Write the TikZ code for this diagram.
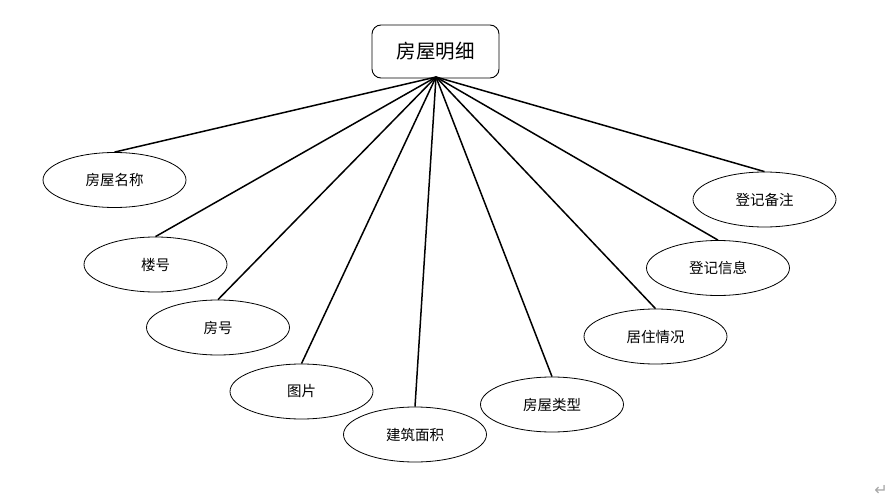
\documentclass[tikz,border=0pt]{standalone}
\usepackage{fontspec}
\usetikzlibrary{shapes.geometric}
\newfontfamily\cjk{Noto Sans CJK SC}
\newfontfamily\dejavu{DejaVu Sans}
\begin{document}
\begin{tikzpicture}[x=1pt,y=-1pt,
  rootbox/.style={draw=black, line width=0.9pt, rounded corners=9pt, minimum width=127pt, minimum height=53pt, inner sep=0pt, font=\cjk\fontsize{19.5}{22}\selectfont},
  attr/.style={draw=black, line width=0.8pt, ellipse, minimum width=143pt, minimum height=55pt, inner sep=0pt, font=\cjk\fontsize{14.5}{17}\selectfont},
  link/.style={line width=1.5pt, black}]
\useasboundingbox (0,0) rectangle (894,500);
\node[rootbox] (root) at (435.5,51.5) {房屋明细};
\coordinate (hub) at (436,77);
\node[attr] (a1) at (114.5,180) {房屋名称};
\node[attr] (a2) at (155.5,264.5) {楼号};
\node[attr] (a3) at (218,327.5) {房号};
\node[attr] (a4) at (301.5,391.5) {图片};
\node[attr] (a5) at (415,434.5) {建筑面积};
\node[attr] (a6) at (552,404.5) {房屋类型};
\node[attr] (a7) at (655.5,336.5) {居住情况};
\node[attr] (a8) at (718,268) {登记信息};
\node[attr] (a9) at (764.5,199.5) {登记备注};
\foreach \n in {a1,a2,a3,a4,a5,a6,a7,a8,a9}
  \draw[link] (hub) -- (\n.north);
\node[font=\dejavu\fontsize{16}{18}\selectfont, text=gray!70, inner sep=0pt] (mark) at (881,490) {↵};
\end{tikzpicture}
\end{document}
